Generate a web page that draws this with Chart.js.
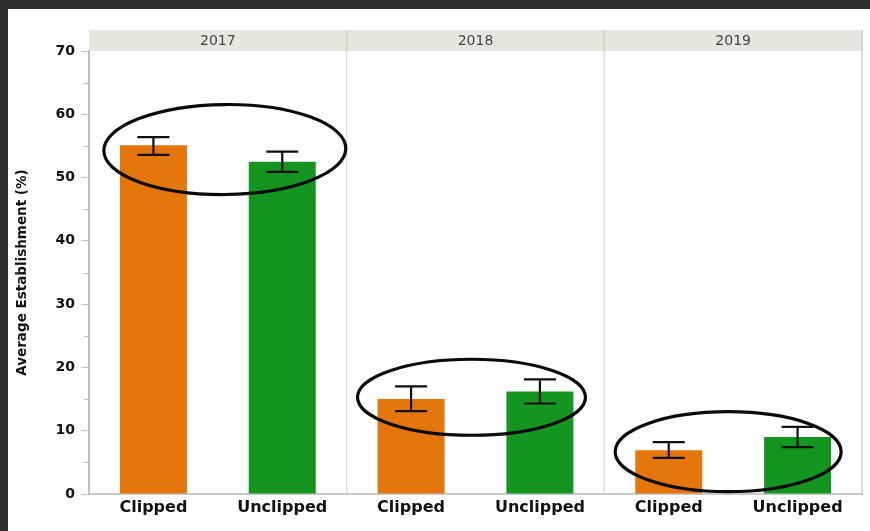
<!DOCTYPE html>
<html>
<head>
<meta charset="utf-8">
<script src="https://cdn.jsdelivr.net/npm/chart.js@4/dist/chart.umd.min.js"></script>
<style>
  html, body { margin: 0; padding: 0; background: #2e2e2e; width: 870px; height: 531px; overflow: hidden; }
  #wrap { position: absolute; left: 8px; top: 9px; width: 862px; height: 522px; background: #ffffff; }
  canvas { display: block; }
</style>
</head>
<body>
<div id="wrap"><canvas id="c" width="862" height="522"></canvas></div>
<script>
// ---- data ----
const years = ['2017', '2018', '2019'];
const categories = ['Clipped', 'Unclipped', 'Clipped', 'Unclipped', 'Clipped', 'Unclipped'];
const establishment = [55.1, 52.5, 15.0, 16.2, 6.9, 9.0];
const errLow  = [53.6, 50.9, 13.1, 14.3, 5.7, 7.4];
const errHigh = [56.4, 54.1, 17.0, 18.1, 8.2, 10.6];
const yTicks = [0, 10, 20, 30, 40, 50, 60, 70];

const ORANGE = '#e4760b';
const GREEN = '#14951f';
const barColors = categories.map(c => c === 'Clipped' ? ORANGE : GREEN);

// panel header + dividers
const panelPlugin = {
  id: 'panels',
  beforeDraw(chart) {
    const { ctx, chartArea: a, scales: { x } } = chart;
    const half = (x.getPixelForValue(1) - x.getPixelForValue(0)) / 2;
    ctx.save();
    ctx.fillStyle = '#e8e7df';
    ctx.fillRect(a.left, a.top - 21, a.right - a.left, 21);
    ctx.fillStyle = '#444';
    ctx.font = '14px "DejaVu Sans"';
    ctx.textAlign = 'center';
    ctx.textBaseline = 'middle';
    years.forEach((yr, g) => {
      const cx = (x.getPixelForValue(2 * g) + x.getPixelForValue(2 * g + 1)) / 2;
      ctx.fillText(yr, cx, a.top - 10);
    });
    for (let g = 1; g <= 3; g++) {
      const bx = g < 3 ? x.getPixelForValue(2 * g) - half : a.right;
      ctx.strokeStyle = '#d6d5cc';
      ctx.lineWidth = 2;
      ctx.beginPath(); ctx.moveTo(bx, a.top - 21); ctx.lineTo(bx, a.top); ctx.stroke();
      ctx.strokeStyle = g < 3 ? '#dedede' : '#cfcfcf';
      ctx.lineWidth = 1.5;
      ctx.beginPath(); ctx.moveTo(bx, a.top); ctx.lineTo(bx, a.bottom); ctx.stroke();
    }
    ctx.restore();
  },
  afterDraw(chart) {
    const { ctx, chartArea: a, scales: { y } } = chart;
    ctx.save();
    ctx.strokeStyle = '#bdbdbd';
    ctx.lineWidth = 1;
    for (let v = 5; v < 70; v += 10) {
      const py = Math.round(y.getPixelForValue(v)) + 0.5;
      ctx.beginPath(); ctx.moveTo(a.left - 5, py); ctx.lineTo(a.left, py); ctx.stroke();
    }
    ctx.restore();
  }
};

// error bars + circled annotations
const errPlugin = {
  id: 'errbars',
  afterDatasetsDraw(chart, args, opts) {
    const { ctx, scales: { y } } = chart;
    const meta = chart.getDatasetMeta(0);
    ctx.save();
    ctx.strokeStyle = '#111';
    ctx.lineWidth = 2.2;
    meta.data.forEach((bar, i) => {
      const x = bar.x;
      const t = y.getPixelForValue(errHigh[i]);
      const b = y.getPixelForValue(errLow[i]);
      const w = 16;
      ctx.beginPath();
      ctx.moveTo(x, t); ctx.lineTo(x, b);
      ctx.moveTo(x - w, t); ctx.lineTo(x + w, t);
      ctx.moveTo(x - w, b); ctx.lineTo(x + w, b);
      ctx.stroke();
    });
    ctx.lineWidth = 3.2;
    ctx.strokeStyle = '#0a0a0a';
    opts.ellipses.forEach((e, g) => {
      const b1 = meta.data[2 * g], b2 = meta.data[2 * g + 1];
      const cx = (b1.x + b2.x) / 2 + e.dx;
      const cy = (y.getPixelForValue(establishment[2 * g]) + y.getPixelForValue(establishment[2 * g + 1])) / 2 + e.dy;
      ctx.beginPath();
      ctx.ellipse(cx, cy, e.rx, e.ry, e.rot || 0, 0, Math.PI * 2);
      ctx.stroke();
    });
    ctx.restore();
  }
};

new Chart(document.getElementById('c'), {
  type: 'bar',
  data: {
    labels: categories,
    datasets: [{
      data: establishment,
      backgroundColor: barColors,
      borderWidth: 0,
      barPercentage: 0.52,
      categoryPercentage: 1.0
    }]
  },
  options: {
    responsive: false,
    devicePixelRatio: 1,
    animation: false,
    layout: { padding: { top: 42, right: 8, left: 0, bottom: 0 } },
    plugins: {
      legend: { display: false },
      tooltip: { enabled: false },
      errbars: {
        ellipses: [
          { dx: 7, dy: -4, rx: 121, ry: 45, rot: -0.01 },
          { dx: -4, dy: 2, rx: 114, ry: 38 },
          { dx: -5, dy: 8, rx: 113, ry: 40 }
        ]
      }
    },
    scales: {
      x: {
        grid: { display: false, drawTicks: false },
        border: { color: '#c8c8c8', width: 2 },
        ticks: {
          color: '#111',
          padding: 4,
          maxRotation: 0,
          autoSkip: false,
          font: { family: '"DejaVu Sans", Verdana, sans-serif', weight: 'bold', size: 16 }
        },
        afterFit(s) { s.height = 37; }
      },
      y: {
        min: 0,
        max: 70,
        afterBuildTicks(s) { s.ticks = yTicks.map(v => ({ value: v })); },
        grid: { drawOnChartArea: false, tickLength: 8, color: '#bdbdbd' },
        border: { color: '#bdbdbd', width: 2 },
        ticks: {
          color: '#111',
          padding: 6,
          font: { family: '"DejaVu Sans", Verdana, sans-serif', weight: 'bold', size: 14 }
        },
        title: {
          display: true,
          text: 'Average Establishment (%)',
          color: '#111',
          padding: { top: 6, bottom: 0 },
          font: { family: '"DejaVu Sans", sans-serif', weight: 'bold', size: 13.5 }
        },
        afterFit(s) { s.width = 81; }
      }
    }
  },
  plugins: [panelPlugin, errPlugin]
});
</script>
</body>
</html>
